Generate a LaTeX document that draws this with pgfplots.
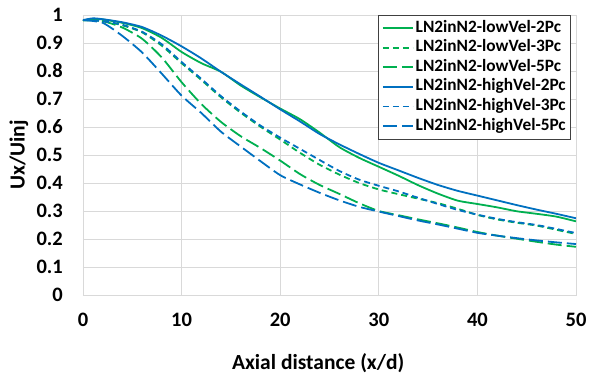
\documentclass[border=0pt]{standalone}
\usepackage{fontspec}
\setmainfont{Carlito}
\usepackage{pgfplots}
\pgfplotsset{compat=1.18}
\definecolor{cgreen}{HTML}{00B050}
\definecolor{cblue}{HTML}{0070C0}
\definecolor{cgrid}{HTML}{D9D9D9}
\begin{document}
\begin{tikzpicture}
\path[use as bounding box] (-83pt,-87pt) rectangle (506pt,295pt);
\begin{axis}[
  at={(0pt,0pt)}, anchor=origin,
  scale only axis, width=493pt, height=280pt,
  xmin=0, xmax=50, ymin=0, ymax=1,
  xtick={0,10,20,30,40,50},
  ytick={0,0.1,0.2,0.3,0.4,0.5,0.6,0.7,0.8,0.9,1},
  yticklabels={0,0.1,0.2,0.3,0.4,0.5,0.6,0.7,0.8,0.9,1},
  grid=major, major grid style={cgrid, line width=0.8pt},
  axis line style={cgrid, line width=0.8pt},
  major tick length=0pt,
  tick label style={font=\fontsize{20.5}{23}\selectfont\bfseries},
  /pgf/number format/assume math mode=true,
  yticklabel style={anchor=east, inner sep=0pt, xshift=-20pt},
  xticklabel style={anchor=center, inner sep=0pt, yshift=-25pt},
  xlabel={Axial distance (x/d)}, ylabel={Ux/Uinj},
  label style={font=\fontsize{21.5}{25}\selectfont\bfseries},
  xlabel style={at={(axis description cs:0.477,-0.243)}, anchor=center},
  ylabel style={at={(axis description cs:-0.13,0.5)}, anchor=center},
  legend style={at={(rel axis cs:0.99,1)}, anchor=north east, draw=black!75, line width=0.8pt, fill=white,
    font=\fontsize{17.3}{20}\selectfont\bfseries, cells={anchor=west}, inner sep=3pt,
    nodes={inner sep=2pt, text height=11.8pt, text depth=3.8pt}},
  legend image code/.code={\draw[#1, line width=1.8pt] (0pt,0pt) -- (30pt,0pt);},
  every axis plot/.append style={line width=1.8pt, smooth, tension=0.4},
]
\addplot[cgreen] coordinates {(0,0.980)(1,0.986)(2,0.984)(4,0.972)(6,0.953)(8,0.918)(10,0.868)(12,0.828)(14,0.797)(16,0.748)(18,0.706)(20,0.666)(22,0.628)(24,0.580)(26,0.528)(28,0.490)(30,0.458)(32,0.426)(34,0.392)(36,0.362)(38,0.337)(40,0.325)(42,0.313)(44,0.299)(46,0.290)(48,0.280)(50,0.263)};
\addlegendentry{LN2inN2-lowVel-2Pc}
\addplot[cgreen, dash pattern=on 6pt off 4pt] coordinates {(0,0.982)(2,0.978)(4,0.963)(6,0.938)(8,0.890)(10,0.828)(12,0.768)(14,0.706)(16,0.651)(18,0.601)(20,0.555)(22,0.508)(24,0.465)(26,0.430)(28,0.400)(30,0.377)(32,0.360)(34,0.344)(36,0.328)(38,0.308)(40,0.286)(42,0.270)(44,0.258)(46,0.248)(48,0.233)(50,0.218)};
\addlegendentry{LN2inN2-lowVel-3Pc}
\addplot[cgreen, dash pattern=on 14pt off 5pt] coordinates {(0,0.982)(2,0.978)(4,0.955)(6,0.915)(8,0.848)(10,0.760)(12,0.682)(14,0.618)(16,0.567)(18,0.525)(20,0.480)(22,0.432)(24,0.393)(26,0.361)(28,0.328)(30,0.300)(32,0.285)(34,0.270)(36,0.256)(38,0.241)(40,0.225)(42,0.212)(44,0.201)(46,0.190)(48,0.180)(50,0.172)};
\addlegendentry{LN2inN2-lowVel-5Pc}
\addplot[cblue] coordinates {(0,0.982)(1,0.988)(2,0.985)(4,0.974)(6,0.957)(8,0.926)(10,0.888)(12,0.845)(14,0.797)(16,0.752)(18,0.708)(20,0.663)(22,0.620)(24,0.575)(26,0.538)(28,0.504)(30,0.472)(32,0.445)(34,0.418)(36,0.393)(38,0.372)(40,0.355)(42,0.338)(44,0.321)(46,0.305)(48,0.290)(50,0.274)};
\addlegendentry{LN2inN2-highVel-2Pc}
\addplot[cblue, dash pattern=on 6pt off 4pt] coordinates {(0,0.982)(2,0.978)(4,0.965)(6,0.940)(8,0.895)(10,0.832)(12,0.772)(14,0.710)(16,0.655)(18,0.605)(20,0.562)(22,0.522)(24,0.482)(26,0.443)(28,0.412)(30,0.390)(32,0.370)(34,0.347)(36,0.325)(38,0.304)(40,0.287)(42,0.272)(44,0.260)(46,0.250)(48,0.236)(50,0.221)};
\addlegendentry{LN2inN2-highVel-3Pc}
\addplot[cblue, dash pattern=on 14pt off 5pt] coordinates {(0,0.982)(2,0.972)(4,0.925)(6,0.866)(8,0.790)(10,0.712)(12,0.650)(14,0.583)(16,0.530)(18,0.478)(20,0.428)(22,0.395)(24,0.365)(26,0.338)(28,0.315)(30,0.298)(32,0.282)(34,0.266)(36,0.252)(38,0.237)(40,0.222)(42,0.212)(44,0.203)(46,0.195)(48,0.188)(50,0.182)};
\addlegendentry{LN2inN2-highVel-5Pc}
\end{axis}
\end{tikzpicture}
\end{document}
